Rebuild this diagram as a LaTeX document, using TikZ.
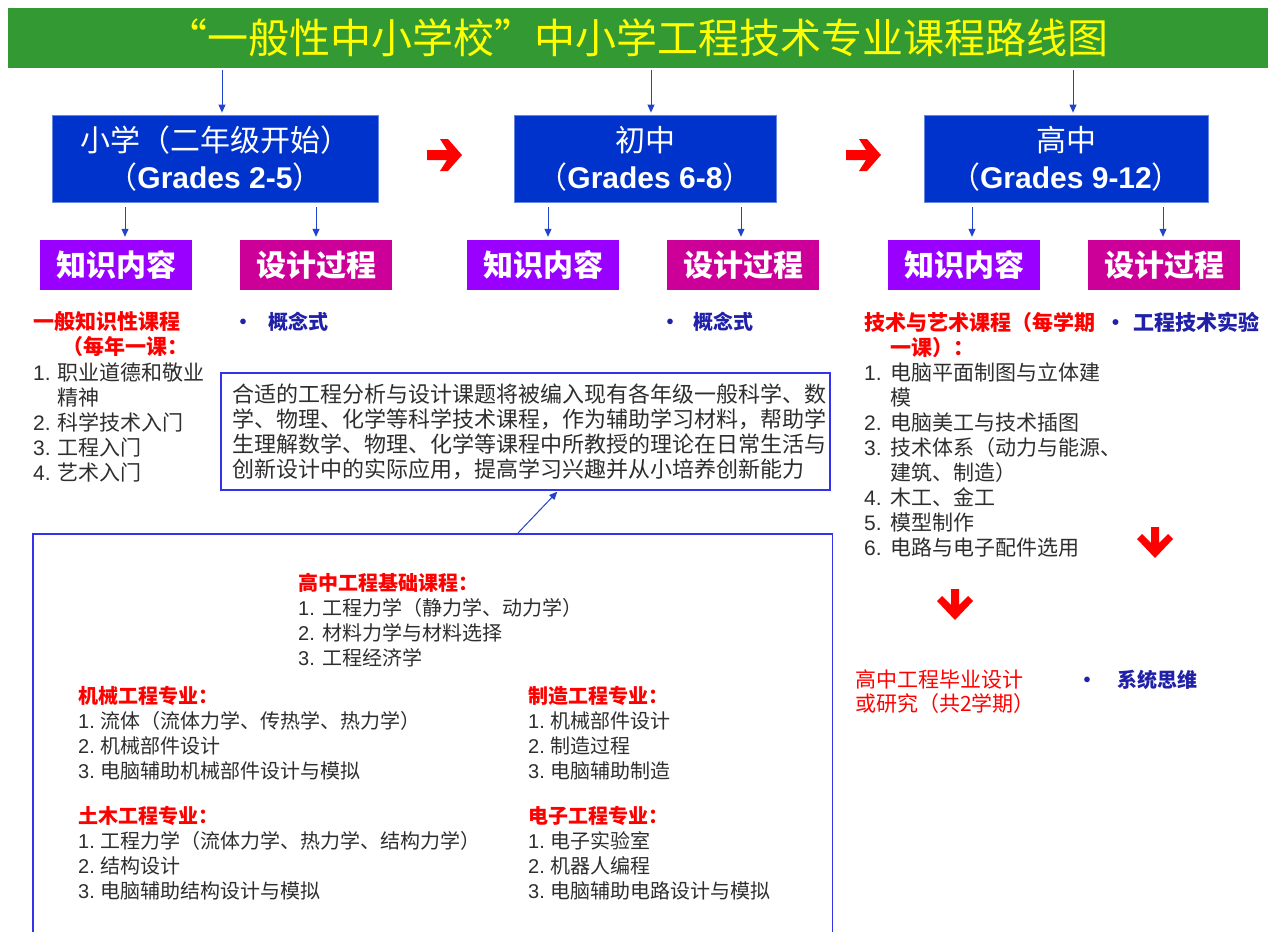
\documentclass[tikz,border=0pt]{standalone}
\usepackage{fontspec}
\setmainfont{Noto Sans CJK SC}
\newfontfamily\lib{Liberation Sans}
\usetikzlibrary{calc,arrows.meta}
\definecolor{tgreen}{HTML}{339933}
\definecolor{tyellow}{HTML}{FFFF00}
\definecolor{gblue}{HTML}{0033CC}
\definecolor{kpurple}{HTML}{9900FF}
\definecolor{dmag}{HTML}{CC0099}
\definecolor{ared}{HTML}{FF0000}
\definecolor{arrblue}{HTML}{2244CC}
\definecolor{bluetxt}{HTML}{2020A8}
\definecolor{listgray}{HTML}{2E2E2E}
\definecolor{frameblue}{HTML}{3333EE}
\newcommand\numlab[2][24pt]{\makebox[#1][l]{\lib #2.}}
\newcommand\fs[2]{\fontsize{#1}{#2}\selectfont}
\tikzset{
  gradebox/.style={fill=gblue, draw=gblue!60!white, line width=0.8pt, text=white,
    minimum width=#1, minimum height=87, inner sep=0, align=center, font=\fs{30}{37}},
  subk/.style={fill=kpurple, text=white, minimum width=152, minimum height=50,
    inner sep=0, font=\fs{30}{30}\bfseries},
  subd/.style={subk, fill=dmag},
  % base west of a multi-line node = baseline of its LAST line
  txt/.style={anchor=base west, inner sep=0, align=left},
  hred/.style={txt, text=ared, font=\fs{21}{25}\bfseries},
  lst/.style={txt, text=listgray, font=\fs{21}{25}},
  bul/.style={txt, text=bluetxt, font=\fs{20}{25}\bfseries},
  garr/.style={draw=arrblue, line width=1pt, -{Triangle[length=8pt,width=7pt]}},
  frame/.style={draw=frameblue, line width=1.5pt},
  redright/.pic={\fill[ared] (0,-5)--(20,-5)--(13,-16)--(21,-16)--(35,0)--(21,16)--(13,16)--(20,5)--(0,5)--cycle;},
  reddown/.pic={\fill[ared] (-4,0)--(4,0)--(4,16)--(13,7)--(18,12)--(0,31)--(-18,12)--(-13,7)--(-4,16)--cycle;}
}
\begin{document}
\begin{tikzpicture}[x=1pt,y=-1pt]
\useasboundingbox[fill=white] (0,0) rectangle (1268,932);
% title
\node[fill=tgreen, minimum width=1260, minimum height=60, inner sep=0, text=tyellow,
  font=\fs{41}{44}] (title) at (638,38) {\makebox[40pt][r]{“}一般性中小学校\makebox[40pt][l]{”}中小学工程技术专业课程路线图};
% grade boxes
\node[gradebox=326] (g1) at (215,158.5) {小学（二年级开始）\\（{\lib\bfseries Grades 2-5}）};
\node[gradebox=262] (g2) at (645,158.5) {初中\\（{\lib\bfseries Grades 6-8}）};
\node[gradebox=284] (g3) at (1066,158.5) {高中\\（{\lib\bfseries Grades 9-12}）};
\draw[garr, shorten <=2pt, shorten >=2pt] ([xshift=7pt]g1.north |- title.south) -- ([xshift=7pt]g1.north);
\draw[garr, shorten <=2pt, shorten >=2pt] ([xshift=6pt]g2.north |- title.south) -- ([xshift=6pt]g2.north);
\draw[garr, shorten <=2pt, shorten >=2pt] ([xshift=7pt]g3.north |- title.south) -- ([xshift=7pt]g3.north);
\pic at (427,155) {redright};
\pic at (846,155) {redright};
% sub boxes
\node[subk] (k1) at (116,265) {知识内容};
\node[subd] (d1) at (316,265) {设计过程};
\node[subk] (k2) at (543,265) {知识内容};
\node[subd] (d2) at (743,265) {设计过程};
\node[subk] (k3) at (964,265) {知识内容};
\node[subd] (d3) at (1164,265) {设计过程};
\foreach \g/\k/\s in {g1/k1/9, g1/d1/0, g2/k2/5, g2/d2/-2, g3/k3/8, g3/d3/-1}
  \draw[garr, shorten <=5pt, shorten >=3pt] ([xshift=\s pt]\k.north |- \g.south) -- ([xshift=\s pt]\k.north);
% left column
\node[hred] (h1) at (33,354) {一般知识性课程\\\hspace*{29pt}（每年一课：};
\node[lst] (l1) at (33,480) {\numlab{1}职业道德和敬业\\\hspace*{24pt}精神\\\numlab{2}科学技术入门\\\numlab{3}工程入门\\\numlab{4}艺术入门};
\node[bul] (b1) at (233,329) {\makebox[35pt][l]{•}概念式};
\node[bul] (b2) at (660,329) {\makebox[33pt][l]{•}概念式};
% middle box
\node[frame, text width=587, minimum height=117, inner xsep=11, inner ysep=0, align=left,
  text=listgray, font=\fs{22}{25}] (mid) at (525.5,431.5)
  {合适的工程分析与设计课题将被编入现有各年级一般科学、数\\
   学、物理、化学等科学技术课程，作为辅助学习材料，帮助学\\
   生理解数学、物理、化学等课程中所教授的理论在日常生活与\\
   创新设计中的实际应用，提高学习兴趣并从小培养创新能力};
% bottom box
\node[minimum width=799, minimum height=398, inner sep=0, anchor=north west] (bb) at (33,534) {};
\draw[frame] (bb.south west) -- (bb.north west) -- (bb.north east) -- (bb.south east);
\coordinate (a0) at (518,533);
\draw[garr] (a0) -- ($(mid.south west)+(337,1)$);
\node[lst, font=\fs{20}{25.3}] (basic) at (298,665.9)
  {\textcolor{ared}{\bfseries 高中工程基础课程：}\\\numlab{1}工程力学（静力学、动力学）\\\numlab{2}材料力学与材料选择\\\numlab{3}工程经济学};
\node[lst, font=\fs{20}{25.3}] (mech) at (78,778.9)
  {\textcolor{ared}{\bfseries 机械工程专业：}\\\numlab[22pt]{1}流体（流体力学、传热学、热力学）\\\numlab[22pt]{2}机械部件设计\\\numlab[22pt]{3}电脑辅助机械部件设计与模拟};
\node[lst, font=\fs{20}{25.3}] (civil) at (78,898.9)
  {\textcolor{ared}{\bfseries 土木工程专业：}\\\numlab[22pt]{1}工程力学（流体力学、热力学、结构力学）\\\numlab[22pt]{2}结构设计\\\numlab[22pt]{3}电脑辅助结构设计与模拟};
\node[lst, font=\fs{20}{25.3}] (manu) at (528,778.9)
  {\textcolor{ared}{\bfseries 制造工程专业：}\\\numlab[22pt]{1}机械部件设计\\\numlab[22pt]{2}制造过程\\\numlab[22pt]{3}电脑辅助制造};
\node[lst, font=\fs{20}{25.3}] (elec) at (528,898.9)
  {\textcolor{ared}{\bfseries 电子工程专业：}\\\numlab[22pt]{1}电子实验室\\\numlab[22pt]{2}机器人编程\\\numlab[22pt]{3}电脑辅助电路设计与模拟};
% right column
\node[hred] (h3) at (864,355) {技术与艺术课程（每学期\\\hspace*{26pt}一课）：};
\node[bul, font=\fs{21}{25}\bfseries] (b3) at (1105,330) {\makebox[28pt][l]{•}工程技术实验};
\node[lst] (l3) at (864,555) {\numlab[26pt]{1}电脑平面制图与立体建\\\hspace*{26pt}模\\\numlab[26pt]{2}电脑美工与技术插图\\\numlab[26pt]{3}技术体系（动力与能源、\\\hspace*{26pt}建筑、制造）\\\numlab[26pt]{4}木工、金工\\\numlab[26pt]{5}模型制作\\\numlab[26pt]{6}电路与电子配件选用};
\pic at (1155,527) {reddown};
\pic at (955,589) {reddown};
\node[txt, text=ared, font=\fs{21}{24}] (grad) at (855,711) {高中工程毕业设计\\或研究（共2学期）};
\node[bul] (b4) at (1077,687) {\makebox[40pt][l]{•}系统思维};
\end{tikzpicture}
\end{document}
